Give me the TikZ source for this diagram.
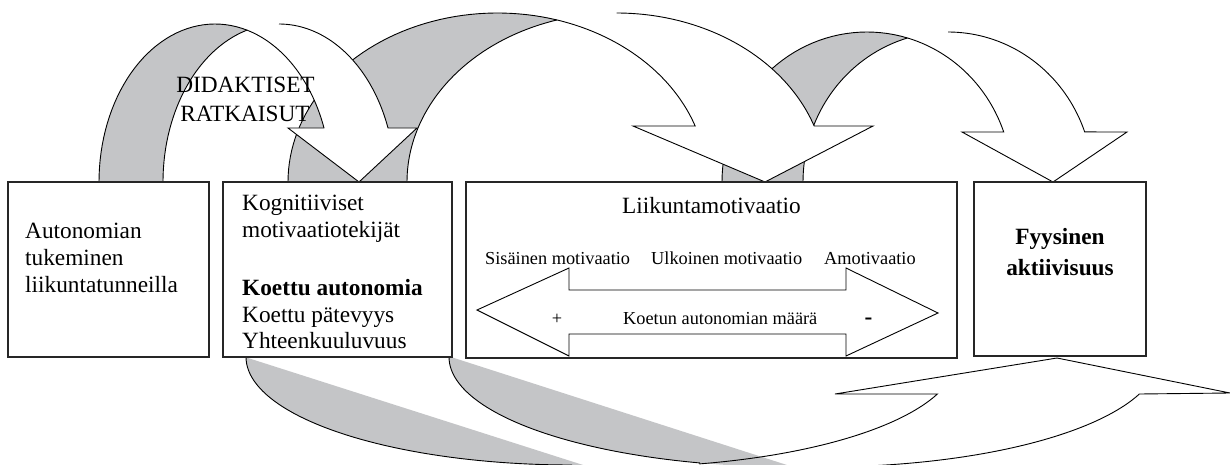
\documentclass[tikz,border=0pt]{standalone}
\usepackage{fontspec}
\setmainfont{Liberation Serif}
\definecolor{shadegray}{RGB}{196,197,199}
\begin{document}
\begin{tikzpicture}[x=1pt,y=-1pt,
  edge/.style={draw=black,line width=0.9pt,line join=miter},
  shadefill/.style={fill=shadegray,draw=none},
  frontfill/.style={fill=white,draw=none},
  box/.style={draw=black!85,line width=1.3pt,fill=white,rectangle,inner sep=0pt,outer sep=0pt,anchor=north west},
  maintext/.style={font=\fontsize{23.3}{28}\selectfont,inner sep=0pt},
  boldtext/.style={font=\fontsize{23.3}{28}\selectfont\bfseries,inner sep=0pt},
  smalltext/.style={font=\fontsize{18.3}{22}\selectfont,inner sep=0pt}]
\useasboundingbox (0,0) rectangle (1230,465);
\clip (0,0) rectangle (1230,465);

% ---------- arrow C (box 3 -> box 4)
\fill[shadefill] plot[domain=180:286.2,samples=40,variable=\a] ({867+145*cos(\a)},{182+150*sin(\a)})
  -- plot[domain=253.8:180,samples=40,variable=\a] ({948+145*cos(\a)},{182+150*sin(\a)}) -- cycle;
\draw[edge] plot[domain=180:286.2,samples=40,variable=\a] ({867+145*cos(\a)},{182+150*sin(\a)});
\draw[edge] plot[domain=180:253.8,samples=40,variable=\a] ({948+145*cos(\a)},{182+150*sin(\a)});
\fill[frontfill] plot[domain=253.8:340.5,samples=40,variable=\a] ({948+145*cos(\a)},{182+150*sin(\a)})
  -- (1127,132) -- (1053,182) -- (962,132) -- (1003.7,132)
  -- plot[domain=340.5:286.2,samples=40,variable=\a] ({867+145*cos(\a)},{182+150*sin(\a)}) -- cycle;
\draw[edge] plot[domain=270:340.5,samples=40,variable=\a] ({948+145*cos(\a)},{182+150*sin(\a)})
  -- (1127,132) -- (1053,182) -- (962,132) -- (1003.7,132)
  -- plot[domain=340.5:286.2,samples=40,variable=\a] ({867+145*cos(\a)},{182+150*sin(\a)});

% ---------- arrow B (box 2 -> box 3)
\fill[shadefill] plot[domain=180:286.5,samples=50,variable=\a] ({497.5+209.5*cos(\a)},{182+169*sin(\a)})
  -- plot[domain=253.5:180,samples=50,variable=\a] ({616.5+209.5*cos(\a)},{182+169*sin(\a)}) -- cycle;
\draw[edge] plot[domain=180:286.5,samples=50,variable=\a] ({497.5+209.5*cos(\a)},{182+169*sin(\a)});
\draw[edge] plot[domain=180:253.5,samples=50,variable=\a] ({616.5+209.5*cos(\a)},{182+169*sin(\a)});
\fill[frontfill] plot[domain=253.5:340.65,samples=50,variable=\a] ({616.5+209.5*cos(\a)},{182+169*sin(\a)})
  -- (873,126) -- (765,182) -- (633,126) -- (695,126)
  -- plot[domain=340.65:286.5,samples=50,variable=\a] ({497.5+209.5*cos(\a)},{182+169*sin(\a)}) -- cycle;
\draw[edge] plot[domain=270:340.65,samples=50,variable=\a] ({616.5+209.5*cos(\a)},{182+169*sin(\a)})
  -- (873,126) -- (765,182) -- (633,126) -- (695,126)
  -- plot[domain=340.65:286.5,samples=50,variable=\a] ({497.5+209.5*cos(\a)},{182+169*sin(\a)});

% ---------- arrow A (box 1 -> box 2)
\fill[shadefill] plot[domain=180:286,samples=40,variable=\a] ({215+116*cos(\a)},{182+158*sin(\a)})
  -- plot[domain=254:180,samples=40,variable=\a] ({279+116*cos(\a)},{182+158*sin(\a)}) -- cycle;
\draw[edge] plot[domain=180:286,samples=40,variable=\a] ({215+116*cos(\a)},{182+158*sin(\a)});
\draw[edge] plot[domain=180:254,samples=40,variable=\a] ({279+116*cos(\a)},{182+158*sin(\a)});
\fill[frontfill] plot[domain=254:340,samples=40,variable=\a] ({279+116*cos(\a)},{182+158*sin(\a)})
  -- (417,128) -- (359,182) -- (288,128) -- (324,128)
  -- plot[domain=340:286,samples=40,variable=\a] ({215+116*cos(\a)},{182+158*sin(\a)}) -- cycle;
\draw[edge] plot[domain=270:340,samples=40,variable=\a] ({279+116*cos(\a)},{182+158*sin(\a)})
  -- (417,128) -- (359,182) -- (288,128) -- (324,128)
  -- plot[domain=340:286,samples=40,variable=\a] ({215+116*cos(\a)},{182+158*sin(\a)});

% ---------- bottom curved arrow (back to box 4)
\fill[shadefill] plot[domain=180:90,samples=50,variable=\a] ({572+326*cos(\a)},{357+108*sin(\a)})
  -- (600,470.4) -- (248,358) -- cycle;
\fill[shadefill] plot[domain=180:90,samples=50,variable=\a] ({792+343*cos(\a)},{357+110*sin(\a)})
  -- (800,469.2) -- (451,357) -- cycle;
\draw[edge] plot[domain=180:90,samples=50,variable=\a] ({572+326*cos(\a)},{357+108*sin(\a)});
\draw[edge] plot[domain=180:105.6,samples=50,variable=\a] ({792+343*cos(\a)},{357+110*sin(\a)})
  -- plot[domain=76.3:19.66,samples=50,variable=\a] ({620+337*cos(\a)},{357+110*sin(\a)})
  -- (835,394) -- (1057,358) -- (1230,393) -- (1139.4,394)
  -- plot[domain=19.66:85,samples=50,variable=\a] ({822+337*cos(\a)},{357+110*sin(\a)});

% ---------- boxes
\node[box,minimum width=201pt,minimum height=175pt] (b1) at (8,182) {};
\node[box,minimum width=229pt,minimum height=175pt] (b2) at (223,182) {};
\node[box,minimum width=491pt,minimum height=176pt] (b3) at (466,182) {};
\node[box,minimum width=172pt,minimum height=174pt] (b4) at (974,182) {};

% double arrow inside box 3
\draw[edge,fill=white] (477,310) -- (569,268) -- (569,290) -- (846,290) -- (846,268)
  -- (938,313) -- (846,356) -- (846,334) -- (569,334) -- (569,356) -- cycle;

% ---------- texts
\node[maintext,anchor=base] (did1) at (245.5,93) {DIDAKTISET};
\node[maintext,anchor=base] (did2) at (245,122) {RATKAISUT};

\node[maintext,anchor=base west] (t1a) at (25,238) {Autonomian};
\node[maintext,anchor=base west] (t1b) at (25,265) {tukeminen};
\node[maintext,anchor=base west] (t1c) at (25,292) {liikuntatunneilla};

\node[maintext,anchor=base west] (t2a) at (242,210) {Kognitiiviset};
\node[maintext,anchor=base west] (t2b) at (242,237) {motivaatiotekijät};
\node[boldtext,anchor=base west] (t2c) at (242,295) {Koettu autonomia};
\node[maintext,anchor=base west] (t2d) at (242,322) {Koettu pätevyys};
\node[maintext,anchor=base west] (t2e) at (242,348) {Yhteenkuuluvuus};

\node[maintext,anchor=base west] (t3a) at (622,213) {Liikuntamotivaatio};
\node[smalltext,anchor=base west] (t3b) at (485,264) {Sisäinen motivaatio};
\node[smalltext,anchor=base west] (t3c) at (651,264) {Ulkoinen motivaatio};
\node[smalltext,anchor=base west] (t3d) at (824,264) {Amotivaatio};
\node[smalltext,anchor=base] (t3e) at (557,324) {+};
\node[smalltext,anchor=base west] (t3f) at (623,324) {Koetun autonomian määrä};
\node[boldtext,anchor=base] (t3g) at (868.5,324) {-};

\node[boldtext,anchor=base] (t4a) at (1060,244) {Fyysinen};
\node[boldtext,anchor=base] (t4b) at (1060,275) {aktiivisuus};
\end{tikzpicture}
\end{document}
